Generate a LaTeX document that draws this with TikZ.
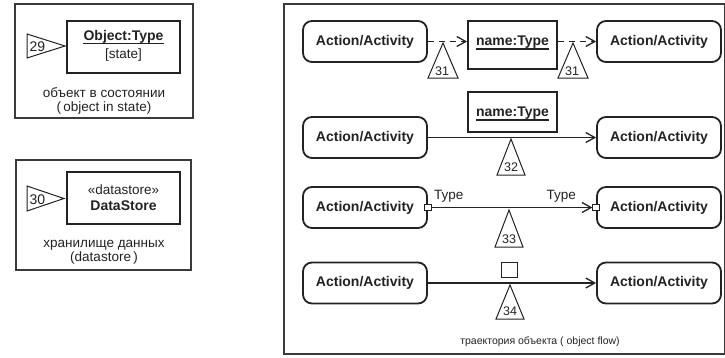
\documentclass[tikz,border=0pt]{standalone}
\usepackage{fontspec}
\setmainfont{Liberation Sans}
\usetikzlibrary{arrows.meta}
\definecolor{ink}{HTML}{222222}
\definecolor{framec}{HTML}{3A3A3A}
\begin{document}
\begin{tikzpicture}[x=1pt,y=-1pt,
  every node/.style={text=ink},
  frame/.style={draw=framec, line width=1.1pt},
  act/.style={draw=ink, line width=1.8pt, rounded corners=9pt, minimum width=124pt, minimum height=41pt, inner sep=0pt, font=\fontsize{14}{16}\selectfont\bfseries},
  objbox/.style={draw=ink, line width=1.8pt, inner sep=0pt},
  lbl/.style={inner sep=0pt, anchor=base, font=\fontsize{13.5}{16}\selectfont},
  slbl/.style={inner sep=0pt, anchor=base, font=\fontsize{10.5}{13}\selectfont},
  blbl/.style={inner sep=0pt, anchor=base, font=\fontsize{14}{16}\selectfont\bfseries},
  num/.style={inner sep=0pt, anchor=base, font=\fontsize{12.5}{14}\selectfont},
  bnum/.style={inner sep=0pt, anchor=base, font=\fontsize{14}{16}\selectfont},
  tri/.style={draw=ink, line width=1pt, line join=miter},
  uline/.style={draw=ink, line width=1.3pt},
  flow/.style={draw=ink, line width=1.3pt, -{Straight Barb[length=9pt,width=10pt,line width=1.3pt]}},
  dflow/.style={flow, dash pattern=on 6pt off 5pt},
  pin/.style={draw=ink, line width=1pt, fill=white, minimum size=6.5pt, inner sep=0pt}
]
\useasboundingbox (0,0) rectangle (725,357);

% ---------- left panel 1: object in state ----------
\draw[frame] (15,4) rectangle (193,118);
\node[objbox, minimum width=113pt, minimum height=52pt] (ot) at (123.5,47) {};
\node[blbl] (otn) at (123.5,40) {Object:Type};
\draw[uline] ([yshift=-3.5pt]otn.base west) -- ([yshift=-3.5pt]otn.base east);
\node[lbl] (ots) at (123.5,58) {[state]};
\draw[tri] (27,34) -- (27,58) -- (65,46) -- cycle;
\node[bnum] (n29) at (37.5,51.5) {29};
\node[lbl] (c1a) at (104,97) {объект в состоянии};
\node[lbl] (c1b) at (104,111) {(\,object in state)};

% ---------- left panel 2: datastore ----------
\draw[frame] (16,160) rectangle (191,270);
\node[objbox, minimum width=113pt, minimum height=52pt] (ds) at (123.5,198) {};
\node[lbl] (dss) at (123.5,194) {«datastore»};
\node[blbl] (dsn) at (123.5,210) {DataStore};
\draw[tri] (27,186) -- (27,211) -- (64,198.5) -- cycle;
\node[bnum] (n30) at (37.5,204) {30};
\node[lbl] (c2a) at (104,247) {хранилище данных};
\node[lbl] (c2b) at (104,261) {(datastore\,)};

% ---------- right panel: object flow ----------
\draw[frame] (284,4) rectangle (724.5,354);

% row 1
\node[act] (a1) at (365,41.5) {Action/Activity};
\node[act] (b1) at (659,41.5) {Action/Activity};
\node[objbox, minimum width=89pt, minimum height=48pt] (nt1) at (512.5,45) {};
\node[blbl] (nt1t) at (512.5,45) {name:Type};
\draw[uline] ([yshift=-4pt]nt1t.base west) -- ([yshift=-4pt]nt1t.base east);
\draw[dflow] (a1.east) -- (a1.east -| nt1.west);
\draw[dflow] (a1.east -| nt1.east) -- (b1.west);
\draw[tri] (443,43) -- (428,78) -- (458,78) -- cycle;
\node[num] (n31a) at (442,75) {31};
\draw[tri] (573,43) -- (558,78) -- (588,78) -- cycle;
\node[num] (n31b) at (572,75) {31};

% row 2
\node[act] (a2) at (365,137.5) {Action/Activity};
\node[act] (b2) at (659,137.5) {Action/Activity};
\node[objbox, minimum width=89pt, minimum height=40pt] (nt2) at (512.5,112) {};
\node[blbl] (nt2t) at (512.5,116) {name:Type};
\draw[uline] ([yshift=-4pt]nt2t.base west) -- ([yshift=-4pt]nt2t.base east);
\draw[flow] (a2.east) -- (b2.west);
\draw[tri] (511,139) -- (497,175) -- (525,175) -- cycle;
\node[num] (n32) at (511,171.5) {32};

% row 3
\node[act] (a3) at (365,207.5) {Action/Activity};
\node[act] (b3) at (659,207.5) {Action/Activity};
\node[pin] (p1) at (a3.east) {};
\node[pin] (p2) at (b3.west) {};
\draw[flow] (p1.east) -- (p2.west);
\node[lbl, anchor=base west] (t1) at (434,199) {Type};
\node[lbl, anchor=base east] (t2) at (576,199) {Type};
\draw[tri] (509,210) -- (495,247) -- (523,247) -- cycle;
\node[num] (n33) at (509,243.5) {33};

% row 4
\node[act] (a4) at (365,283) {Action/Activity};
\node[act] (b4) at (659,283) {Action/Activity};
\node[draw=ink, line width=1pt, minimum width=16pt, minimum height=15pt, inner sep=0pt] (sq) at (509,270) {};
\draw[flow] (a4.east) -- (b4.west);
\draw[tri] (510,285) -- (496,319) -- (524,319) -- cycle;
\node[num] (n34) at (510,315.5) {34};
\node[slbl] (c3) at (540,344) {траектория объекта ( object flow)};
\end{tikzpicture}
\end{document}
